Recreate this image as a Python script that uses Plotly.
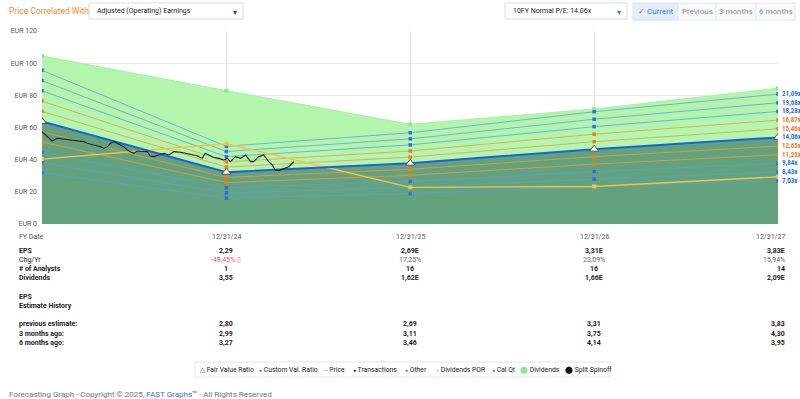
import plotly.graph_objects as go

# ---------------- data ----------------
fy_dates = ["2023-12-31", "2024-12-31", "2025-12-31", "2026-12-31", "2027-12-31"]
fy_labels = ["12/31/24", "12/31/25", "12/31/26", "12/31/27"]
eps = [4.53, 2.29, 2.69, 3.31, 3.83]
dividends = [2.87, 3.55, 1.62, 1.66, 2.09]
normal_pe = 14.06
multiples = [21.09, 19.68, 18.28, 16.87, 15.46, 14.06, 12.65, 11.25, 9.84, 8.43, 7.03]
multiple_kind = ["b", "b", "b", "o", "o", "fv", "o", "o", "b", "b", "b"]
green_top = [104.5, 82.9, 62.0, 71.5, 84.4]

price_dates = [
    "2023-12-31", "2024-01-10", "2024-01-20", "2024-01-30", "2024-02-09", "2024-02-19",
    "2024-02-29", "2024-03-10", "2024-03-23", "2024-03-30", "2024-04-05", "2024-04-12",
    "2024-04-25", "2024-05-02", "2024-05-09", "2024-05-15", "2024-05-22", "2024-05-28",
    "2024-06-10", "2024-06-20", "2024-06-30", "2024-07-07", "2024-07-17", "2024-07-27",
    "2024-08-02", "2024-08-09", "2024-08-19", "2024-08-29", "2024-09-08", "2024-09-18",
    "2024-10-01", "2024-10-11", "2024-10-21", "2024-11-03", "2024-11-13", "2024-11-19",
    "2024-11-26", "2024-12-06", "2024-12-16", "2024-12-26", "2025-01-02", "2025-01-08",
    "2025-01-18", "2025-01-28", "2025-02-07", "2025-02-17", "2025-02-23", "2025-03-05",
    "2025-03-15", "2025-03-25", "2025-04-01", "2025-04-07", "2025-04-14", "2025-04-24",
    "2025-05-04", "2025-05-14",
]
price_values = [
    57.4, 54.3, 51.6, 53.3, 52.9, 52.2,
    51.8, 51.6, 51.2, 50.2, 49.6, 49.1,
    48.1, 47.1, 48.1, 50.2, 51.2, 50.2,
    48.1, 45.4, 44.0, 45.4, 45.4, 45.0,
    42.3, 41.9, 42.9, 44.0, 42.9, 45.0,
    44.6, 44.0, 43.3, 42.5, 40.8, 44.0,
    42.9, 41.3, 40.8, 39.8, 40.8, 38.8,
    41.9, 40.8, 42.9, 38.8, 38.8, 41.9,
    42.9, 38.8, 36.7, 33.6, 33.2, 34.6,
    35.6, 38.8,
]

table_rows = [
    ("EPS", ["2,29", "2,69E", "3,31E", "3,83E"], True),
    ("Chg/Yr", ["-49,45% \u25af", "17,25%", "23,09%", "15,94%"], False),
    ("# of Analysts", ["1", "16", "16", "14"], True),
    ("Dividends", ["3,55", "1,62E", "1,66E", "2,09E"], True),
]
history_rows = [
    ("previous estimate:", ["2,80", "2,69", "3,31", "3,83"]),
    ("3 months ago:", ["2,99", "3,11", "3,75", "4,30"]),
    ("6 months ago:", ["3,27", "3,46", "4,14", "3,95"]),
]

# ---------------- styles ----------------
W, H = 800, 399
PL, PR, PT, PB = 42, 778, 31, 224
FONT = "Roboto"
NARROW = "Liberation Sans Narrow, Roboto Condensed, Arial Narrow, Roboto"
BLUE_LINE = "rgba(95,155,230,0.75)"
ORANGE_LINE = "rgba(240,150,70,0.8)"
BLUE_MK = "#2a6fe8"
ORANGE_MK = "#f07c1a"


def px_x(px):
    return (px - PL) / (PR - PL)


def px_y(py):
    return (PB - py) / (PB - PT)


fig = go.Figure()

# light green (dividends) area
fig.add_trace(go.Scatter(
    x=fy_dates, y=green_top, mode="lines+markers", fill="tozeroy",
    fillcolor="#b2f5ad", line=dict(color="#a6f0a0", width=1),
    marker=dict(color="#8fe88a", size=4, symbol="square"), hoverinfo="skip", showlegend=False))

# dark green earnings area
fv_vals = [normal_pe * e for e in eps]
fig.add_trace(go.Scatter(
    x=fy_dates, y=fv_vals, mode="lines", fill="tozeroy",
    fillcolor="#62a37e", line=dict(color="#62a37e", width=0), hoverinfo="skip", showlegend=False))

# multiple lines
for m, kind in zip(multiples, multiple_kind):
    vals = [m * e for e in eps]
    if kind == "fv":
        continue
    col = BLUE_LINE if kind == "b" else ORANGE_LINE
    mk = BLUE_MK if kind == "b" else ORANGE_MK
    fig.add_trace(go.Scatter(
        x=fy_dates, y=vals, mode="lines+markers",
        line=dict(color=col, width=1),
        marker=dict(color=mk, size=3.5, symbol="square"), hoverinfo="skip", showlegend=False))

# dividends POR line (yellow)
fig.add_trace(go.Scatter(
    x=fy_dates, y=[normal_pe * d for d in dividends], mode="lines+markers",
    line=dict(color="#f6c443", width=1.4),
    marker=dict(color="#f6c443", size=4, symbol="square"), hoverinfo="skip", showlegend=False))

# fair value line
fig.add_trace(go.Scatter(
    x=fy_dates, y=fv_vals, mode="lines+markers",
    line=dict(color="#1d5fe0", width=2),
    marker=dict(color="white", size=8, symbol="triangle-up", line=dict(color="#555", width=1)),
    hoverinfo="skip", showlegend=False))

# price
fig.add_trace(go.Scatter(
    x=price_dates, y=price_values, mode="lines",
    line=dict(color="#222222", width=1.1), hoverinfo="skip", showlegend=False))

ann = []

# right labels for multiples
for m, kind in zip(multiples, multiple_kind):
    col = ORANGE_MK if kind == "o" else BLUE_MK
    ann.append(dict(x=fy_dates[-1], y=m * eps[-1], xref="x", yref="y", xanchor="left",
                    yanchor="middle", xshift=2, showarrow=False,
                    text=f"<b>{m:.2f}x</b>".replace(".", ","),
                    font=dict(family=NARROW, size=7, color=col)))

# ---------------- table ----------------
def txt(x, y, text, size=7, color="#333", bold=False, anchor="left", xref="paper", xshift=0,
        family=FONT):
    if bold:
        text = f"<b>{text}</b>"
    ann.append(dict(x=x, y=px_y(y), xref=xref, yref="paper", text=text, showarrow=False,
                    xanchor=anchor, yanchor="middle", xshift=xshift,
                    font=dict(family=family, size=size, color=color)))


LABEL_X = px_x(17)
txt(LABEL_X, 237, "FY Date", color="#555")
for i, lab in enumerate(fy_labels):
    last = i == len(fy_labels) - 1
    txt(fy_dates[i + 1], 237, lab, color="#555", xref="x",
        anchor="right" if last else "center", xshift=9 if last else 0)

row_y = [251, 260, 269, 278]
for (label, vals, bold), y in zip(table_rows, row_y):
    txt(LABEL_X, y, label, color="#222", bold=(label != "Chg/Yr"))
    for i, v in enumerate(vals):
        last = i == len(vals) - 1
        color = "#222" if bold else "#666"
        if label == "Chg/Yr" and v.startswith("-"):
            color = "#e8506a"
        txt(fy_dates[i + 1], y, v, color=color, bold=bold, xref="x",
            anchor="right" if last else "center", xshift=9 if last else 0)

txt(LABEL_X, 297, "EPS", color="#222", bold=True)
txt(LABEL_X, 306, "Estimate History", color="#222", bold=True)

for (label, vals), y in zip(history_rows, [324, 334, 343]):
    txt(LABEL_X, y, label, color="#222", bold=True)
    for i, v in enumerate(vals):
        last = i == len(vals) - 1
        txt(fy_dates[i + 1], y, v, color="#222", bold=True, xref="x",
            anchor="right" if last else "center", xshift=9 if last else 0)

# ---------------- header ----------------
shapes = []


def rect(x0, y0, x1, y1, fill="white", line="#dddddd"):
    shapes.append(dict(type="rect", xref="paper", yref="paper",
                       x0=px_x(x0), x1=px_x(x1), y0=px_y(y1), y1=px_y(y0),
                       fillcolor=fill, line=dict(color=line, width=1), layer="above"))


txt(px_x(7), 11, "Price Correlated With", size=8.5, color="#f5891f")
rect(89, 3, 243, 19)
txt(px_x(95), 11, "Adjusted (Operating) Earnings", size=7, color="#222")
txt(px_x(235), 12, "\u25be", size=8, color="#444", anchor="center")

rect(505, 3, 627, 19)
txt(px_x(511), 11, "10FY Normal P/E: 14.06x", size=7, color="#222")
txt(px_x(619), 12, "\u25be", size=8, color="#3b7ddd", anchor="center")

rect(633, 3, 678, 20, fill="#e4eefb", line="#d6e2f3")
rect(678, 3, 716, 20, fill="#f7f9fc", line="#e3e8ef")
rect(716, 3, 756, 20, fill="#f7f9fc", line="#e3e8ef")
rect(756, 3, 795, 20, fill="#f7f9fc", line="#e3e8ef")
txt(px_x(655.5), 11.5, "\u2713 Current", size=8, color="#3b7ddd", anchor="center")
txt(px_x(697), 11.5, "Previous", size=8, color="#8a8f98", anchor="center")
txt(px_x(736), 11.5, "3 months", size=8, color="#8a8f98", anchor="center")
txt(px_x(775.5), 11.5, "6 months", size=8, color="#8a8f98", anchor="center")

# ---------------- legend ----------------
rect(195, 362, 610, 377, fill="white", line="#e2e4ea")
legend_items = [
    (198, "\u25b3", "#333", "Fair Value Ratio"),
    (257, "\u25cf", "#e020d0", "Custom Val. Ratio"),
    (321, "\u2012", "#333", "Price"),
    (351, "\u25cf", "#222", "Transactions"),
    (403, "\u25cf", "#3b82f6", "Other"),
    (434, "\u25cf", "#f6c443", "Dividends POR"),
    (490, "\u25cf", "#6a5cf0", "Cal Qt"),
    (518, "\u2b24", "#8fe88a", "Dividends"),
    (563, "\u2b24", "#111", "Split Spinoff"),
]
for x, sym, col, lab in legend_items:
    small = sym == "\u25cf"
    ann.append(dict(x=px_x(x), y=px_y(369.5), xref="paper", yref="paper", showarrow=False,
                    xanchor="left", yanchor="middle",
                    text=(f"<span style='color:{col};font-size:{5 if small else 7}px'>{sym}</span>"
                          f" {lab}"),
                    font=dict(family=FONT, size=6.8, color="#222")))

# ---------------- footer ----------------
ann.append(dict(x=px_x(7), y=px_y(394), xref="paper", yref="paper", showarrow=False,
                xanchor="left", yanchor="middle",
                text=("Forecasting Graph - Copyright \u00a9 2025, "
                      "<span style='color:#3b6fd8'>FAST Graphs\u2122</span> - All Rights Reserved"),
                font=dict(family=FONT, size=8, color="#6b7380")))

fig.update_layout(
    width=W, height=H,
    margin=dict(l=PL, r=W - PR, t=PT, b=H - PB, pad=0),
    paper_bgcolor="white", plot_bgcolor="white",
    showlegend=False,
    annotations=ann, shapes=shapes,
    xaxis=dict(type="date", range=[fy_dates[0], fy_dates[-1]],
               tickvals=fy_dates, showticklabels=False, ticks="",
               showgrid=True, gridcolor="#e2e2ec", gridwidth=1,
               zeroline=False, showline=False, fixedrange=True),
    yaxis=dict(range=[0, 120], tickvals=[0, 20, 40, 60, 80, 100, 120],
               ticktext=[f"EUR {v}" for v in [0, 20, 40, 60, 80, 100, 120]],
               showgrid=True, gridcolor="#e6e6ee", gridwidth=1, zeroline=False,
               tickfont=dict(family=FONT, size=7, color="#555"), ticks="",
               ticklabelstandoff=4, fixedrange=True),
)

fig.write_html(
    "out.html", config=dict(displayModeBar=False),
    post_script=("document.documentElement.style.margin='0';"
                 "document.documentElement.style.overflow='hidden';"
                 "document.body.style.margin='0';document.body.style.padding='0';"
                 "document.body.style.overflow='hidden';"))
